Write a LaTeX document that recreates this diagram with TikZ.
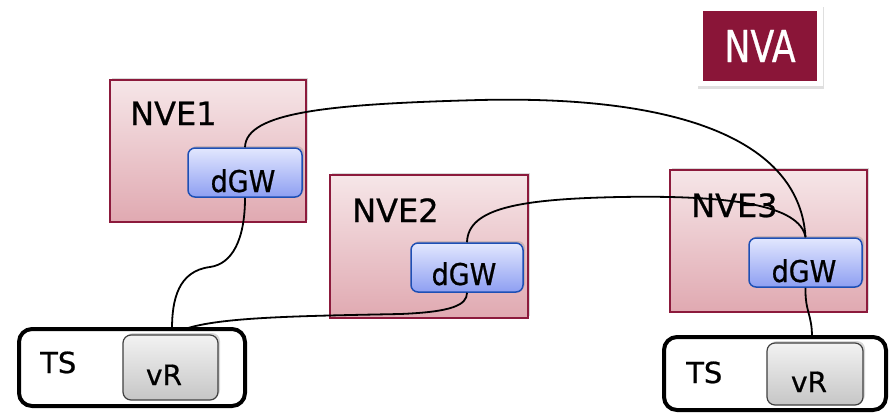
\documentclass[tikz,border=0pt]{standalone}
\usepackage{fontspec}
\setmainfont{DejaVu Sans}[FakeBold=0.7]
\newfontfamily\condfont{DejaVu Sans Condensed}[FakeBold=0.7]
\usetikzlibrary{shadows}
\definecolor{nveborder}{HTML}{8C1A3C}
\definecolor{nvetop}{HTML}{F6E6E8}
\definecolor{nvebot}{HTML}{E0A9B1}
\definecolor{gwtop}{HTML}{E2E7FE}
\definecolor{gwbot}{HTML}{8E9FF2}
\definecolor{gwborder}{HTML}{1D4FB5}
\definecolor{vrtop}{HTML}{F2F2F2}
\definecolor{vrbot}{HTML}{C6C6C6}
\definecolor{nvared}{HTML}{8A1538}
\tikzset{
  nvebox/.style={draw=nveborder, line width=1.5pt, top color=nvetop, bottom color=nvebot,
    drop shadow={shadow xshift=2pt, shadow yshift=2pt, opacity=0.3}},
  gwbox/.style={draw=gwborder, line width=1.5pt, rounded corners=7pt, top color=gwtop, bottom color=gwbot,
    drop shadow={shadow xshift=2pt, shadow yshift=2pt, opacity=0.3}},
  vrbox/.style={draw=black!75, line width=1.2pt, rounded corners=8pt, top color=vrtop, bottom color=vrbot,
    drop shadow={shadow xshift=2pt, shadow yshift=2pt, opacity=0.3}},
  tsbox/.style={draw=black, line width=4pt, rounded corners=13pt, fill=white},
  lbl/.style={font=\fontsize{32}{32}\selectfont, anchor=base west, inner sep=0pt},
  gwlbl/.style={font=\condfont\fontsize{30}{30}\selectfont, anchor=base, inner sep=0pt},
  vrlbl/.style={font=\fontsize{28}{28}\selectfont, anchor=base, inner sep=0pt},
  tslbl/.style={font=\fontsize{29}{29}\selectfont, anchor=base west, inner sep=0pt},
  wire/.style={draw=black, line width=1.8pt}
}
\begin{document}
\begin{tikzpicture}[x=1pt,y=-1pt]
\useasboundingbox (0,0) rectangle (896,413);
% NVA
\node[fill=white, minimum width=126pt, minimum height=82pt, inner sep=0pt,
  drop shadow={shadow xshift=1pt, shadow yshift=-3pt, opacity=0.25}] (nvaframe) at (760,45) {};
\node[fill=nvared, minimum width=114pt, minimum height=70pt, inner sep=0pt, text=white,
  font=\condfont\fontsize{44}{44}\selectfont] (nva) at (760,46) {\scalebox{0.88}[1]{NVA}};
% NVE boxes
\path[nvebox] (110,80) rectangle (306,222);
\coordinate (nve1) at (110,80);
\path[nvebox] (330,175) rectangle (528,318);
\coordinate (nve2) at (330,175);
\path[nvebox] (670,170) rectangle (867,312);
\coordinate (nve3) at (670,170);
\node[lbl] (t1) at (130,125) {NVE1};
\node[lbl] (t2) at (352,222) {NVE2};
% dGW boxes
\node[gwbox, minimum width=114pt, minimum height=49pt, inner sep=0pt] (gw1) at (245,172.5) {};
\node[gwlbl] at (243,192) {dGW};
\node[gwbox, minimum width=112pt, minimum height=49pt, inner sep=0pt] (gw2) at (467,267.5) {};
\node[gwlbl] at (464,285) {dGW};
\node[gwbox, minimum width=113pt, minimum height=49pt, inner sep=0pt] (gw3) at (805.5,262.5) {};
\node[gwlbl] at (804,282) {dGW};
% TS boxes
\path[tsbox] (19,329) rectangle (245,406);
\coordinate (ts1) at (172,329);
\coordinate (ts1b) at (185,329);
\path[tsbox] (664,337) rectangle (886,410);
\coordinate (ts2) at (812,337);
\node[vrbox, minimum width=95pt, minimum height=65pt, inner sep=0pt] (vr1) at (170.5,367.5) {};
\node[vrlbl] at (164,385) {vR};
\node[vrbox, minimum width=96pt, minimum height=62pt, inner sep=0pt] (vr2) at (815,374) {};
\node[vrlbl] at (809,392) {vR};
\node[tslbl] (ts1t) at (40,373) {TS};
\node[tslbl] (ts2t) at (686,383) {TS};
% wires
\draw[wire] (gw1.north) .. controls (246,112) and (330,104) .. (480,100)
  .. controls (690,95) and (800,145) .. (gw3.north);
\draw[wire] (gw2.north) .. controls (468,208) and (520,199) .. (620,197)
  .. controls (730,195) and (800,205) .. (gw3.north);
\node[lbl] (t3) at (691,217) {NVE3};
\draw[wire] (gw1.south) .. controls (245,240) and (232,264) .. (210,267)
  .. controls (178,271) and (172,300) .. (ts1);
\draw[wire] (ts1b) .. controls (220,317) and (300,316) .. (400,314)
  .. controls (452,312) and (467,305) .. (gw2.south);
\draw[wire] (gw3.south) .. controls (805,312) and (812,314) .. (ts2);
\end{tikzpicture}
\end{document}
